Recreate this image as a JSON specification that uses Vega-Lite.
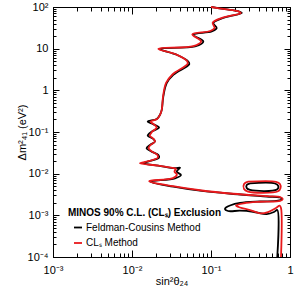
{
  "$schema": "https://vega.github.io/schema/vega-lite/v6.json",
  "width": 237,
  "height": 250,
  "autosize": {"type": "none"},
  "padding": {"left": 53, "top": 7, "right": 4, "bottom": 37},
  "background": "white",
  "config": {
    "view": {"stroke": null},
    "font": "Liberation Sans",
    "axis": {
      "domainColor": "black",
      "domainWidth": 1,
      "tickColor": "black",
      "tickWidth": 1,
      "labelColor": "black",
      "labelFont": "Liberation Sans",
      "labelFontSize": 11,
      "titleFont": "Liberation Sans",
      "titleFontSize": 11,
      "titleFontWeight": "normal",
      "titleColor": "black",
      "grid": false,
      "labelFlush": false,
      "labelOverlap": false
    },
    "line": {"strokeWidth": 1.8, "interpolate": "catmull-rom", "clip": true}
  },
  "datasets": {
    "curves": [
      {"method": "Feldman-Cousins Method", "part": "main", "i": 1, "x": 0.102, "y": 100},
      {"method": "Feldman-Cousins Method", "part": "main", "i": 2, "x": 0.150, "y": 88.5},
      {"method": "Feldman-Cousins Method", "part": "main", "i": 3, "x": 0.220, "y": 79.3},
      {"method": "Feldman-Cousins Method", "part": "main", "i": 4, "x": 0.245, "y": 71.7},
      {"method": "Feldman-Cousins Method", "part": "main", "i": 5, "x": 0.185, "y": 61.8},
      {"method": "Feldman-Cousins Method", "part": "main", "i": 6, "x": 0.143, "y": 54.4},
      {"method": "Feldman-Cousins Method", "part": "main", "i": 7, "x": 0.107, "y": 41.2},
      {"method": "Feldman-Cousins Method", "part": "main", "i": 8, "x": 0.118, "y": 31.3},
      {"method": "Feldman-Cousins Method", "part": "main", "i": 9, "x": 0.102, "y": 25.9},
      {"method": "Feldman-Cousins Method", "part": "main", "i": 10, "x": 0.0597, "y": 21.6},
      {"method": "Feldman-Cousins Method", "part": "main", "i": 11, "x": 0.080, "y": 14.9},
      {"method": "Feldman-Cousins Method", "part": "main", "i": 12, "x": 0.0627, "y": 11.3},
      {"method": "Feldman-Cousins Method", "part": "main", "i": 13, "x": 0.0226, "y": 9.78},
      {"method": "Feldman-Cousins Method", "part": "main", "i": 14, "x": 0.0368, "y": 7.13},
      {"method": "Feldman-Cousins Method", "part": "main", "i": 15, "x": 0.0516, "y": 4.92},
      {"method": "Feldman-Cousins Method", "part": "main", "i": 16, "x": 0.0531, "y": 4.26},
      {"method": "Feldman-Cousins Method", "part": "main", "i": 17, "x": 0.0333, "y": 2.36},
      {"method": "Feldman-Cousins Method", "part": "main", "i": 18, "x": 0.0275, "y": 1.49},
      {"method": "Feldman-Cousins Method", "part": "main", "i": 19, "x": 0.0249, "y": 0.71},
      {"method": "Feldman-Cousins Method", "part": "main", "i": 20, "x": 0.0238, "y": 0.34},
      {"method": "Feldman-Cousins Method", "part": "main", "i": 21, "x": 0.0226, "y": 0.258},
      {"method": "Feldman-Cousins Method", "part": "main", "i": 22, "x": 0.0206, "y": 0.206},
      {"method": "Feldman-Cousins Method", "part": "main", "i": 23, "x": 0.0158, "y": 0.178},
      {"method": "Feldman-Cousins Method", "part": "main", "i": 24, "x": 0.0186, "y": 0.154},
      {"method": "Feldman-Cousins Method", "part": "main", "i": 25, "x": 0.0220, "y": 0.128},
      {"method": "Feldman-Cousins Method", "part": "main", "i": 26, "x": 0.0177, "y": 0.102},
      {"method": "Feldman-Cousins Method", "part": "main", "i": 27, "x": 0.0158, "y": 0.0819},
      {"method": "Feldman-Cousins Method", "part": "main", "i": 28, "x": 0.0186, "y": 0.0682},
      {"method": "Feldman-Cousins Method", "part": "main", "i": 29, "x": 0.0195, "y": 0.0588},
      {"method": "Feldman-Cousins Method", "part": "main", "i": 30, "x": 0.0169, "y": 0.049},
      {"method": "Feldman-Cousins Method", "part": "main", "i": 31, "x": 0.0153, "y": 0.0408},
      {"method": "Feldman-Cousins Method", "part": "main", "i": 32, "x": 0.0177, "y": 0.0338},
      {"method": "Feldman-Cousins Method", "part": "main", "i": 33, "x": 0.0215, "y": 0.0282},
      {"method": "Feldman-Cousins Method", "part": "main", "i": 34, "x": 0.0220, "y": 0.0243},
      {"method": "Feldman-Cousins Method", "part": "main", "i": 35, "x": 0.0169, "y": 0.0202},
      {"method": "Feldman-Cousins Method", "part": "main", "i": 36, "x": 0.0139, "y": 0.0178},
      {"method": "Feldman-Cousins Method", "part": "main", "i": 37, "x": 0.0215, "y": 0.0156},
      {"method": "Feldman-Cousins Method", "part": "main", "i": 38, "x": 0.035, "y": 0.0135},
      {"method": "Feldman-Cousins Method", "part": "main", "i": 39, "x": 0.0406, "y": 0.0139},
      {"method": "Feldman-Cousins Method", "part": "main", "i": 40, "x": 0.0368, "y": 0.0112},
      {"method": "Feldman-Cousins Method", "part": "main", "i": 41, "x": 0.0417, "y": 0.00931},
      {"method": "Feldman-Cousins Method", "part": "main", "i": 42, "x": 0.035, "y": 0.00775},
      {"method": "Feldman-Cousins Method", "part": "main", "i": 43, "x": 0.0169, "y": 0.00643},
      {"method": "Feldman-Cousins Method", "part": "main", "i": 44, "x": 0.0333, "y": 0.00487},
      {"method": "Feldman-Cousins Method", "part": "main", "i": 45, "x": 0.0726, "y": 0.0039},
      {"method": "Feldman-Cousins Method", "part": "main", "i": 46, "x": 0.191, "y": 0.00325},
      {"method": "Feldman-Cousins Method", "part": "main", "i": 47, "x": 0.507, "y": 0.00283},
      {"method": "Feldman-Cousins Method", "part": "main", "i": 48, "x": 0.746, "y": 0.00268},
      {"method": "Feldman-Cousins Method", "part": "main", "i": 49, "x": 0.792, "y": 0.00247},
      {"method": "Feldman-Cousins Method", "part": "main", "i": 50, "x": 0.705, "y": 0.00224},
      {"method": "Feldman-Cousins Method", "part": "main", "i": 51, "x": 0.417, "y": 0.00215},
      {"method": "Feldman-Cousins Method", "part": "main", "i": 52, "x": 0.233, "y": 0.00198},
      {"method": "Feldman-Cousins Method", "part": "main", "i": 53, "x": 0.174, "y": 0.00172},
      {"method": "Feldman-Cousins Method", "part": "main", "i": 54, "x": 0.155, "y": 0.00154},
      {"method": "Feldman-Cousins Method", "part": "main", "i": 55, "x": 0.150, "y": 0.00142},
      {"method": "Feldman-Cousins Method", "part": "main", "i": 56, "x": 0.164, "y": 0.00127},
      {"method": "Feldman-Cousins Method", "part": "main", "i": 57, "x": 0.233, "y": 0.00129},
      {"method": "Feldman-Cousins Method", "part": "main", "i": 58, "x": 0.340, "y": 0.00122},
      {"method": "Feldman-Cousins Method", "part": "main", "i": 59, "x": 0.507, "y": 0.00107},
      {"method": "Feldman-Cousins Method", "part": "main", "i": 60, "x": 0.627, "y": 0.0012},
      {"method": "Feldman-Cousins Method", "part": "main", "i": 61, "x": 0.690, "y": 0.00134},
      {"method": "Feldman-Cousins Method", "part": "main", "i": 62, "x": 0.690, "y": 0.0001},
      {"method": "Feldman-Cousins Method", "part": "island", "i": 1, "x": 0.312, "y": 0.00587},
      {"method": "Feldman-Cousins Method", "part": "island", "i": 2, "x": 0.646, "y": 0.00581},
      {"method": "Feldman-Cousins Method", "part": "island", "i": 3, "x": 0.711, "y": 0.00506},
      {"method": "Feldman-Cousins Method", "part": "island", "i": 4, "x": 0.684, "y": 0.00417},
      {"method": "Feldman-Cousins Method", "part": "island", "i": 5, "x": 0.312, "y": 0.00406},
      {"method": "Feldman-Cousins Method", "part": "island", "i": 6, "x": 0.283, "y": 0.00453},
      {"method": "Feldman-Cousins Method", "part": "island", "i": 7, "x": 0.283, "y": 0.00535},
      {"method": "Feldman-Cousins Method", "part": "island", "i": 8, "x": 0.312, "y": 0.00587},
      {"method": "CLₛ Method", "part": "main", "i": 1, "x": 0.100, "y": 100},
      {"method": "CLₛ Method", "part": "main", "i": 2, "x": 0.150, "y": 88.5},
      {"method": "CLₛ Method", "part": "main", "i": 3, "x": 0.218, "y": 79.3},
      {"method": "CLₛ Method", "part": "main", "i": 4, "x": 0.238, "y": 71.7},
      {"method": "CLₛ Method", "part": "main", "i": 5, "x": 0.180, "y": 61.8},
      {"method": "CLₛ Method", "part": "main", "i": 6, "x": 0.138, "y": 55},
      {"method": "CLₛ Method", "part": "main", "i": 7, "x": 0.105, "y": 42},
      {"method": "CLₛ Method", "part": "main", "i": 8, "x": 0.111, "y": 31.3},
      {"method": "CLₛ Method", "part": "main", "i": 9, "x": 0.098, "y": 26.5},
      {"method": "CLₛ Method", "part": "main", "i": 10, "x": 0.058, "y": 22},
      {"method": "CLₛ Method", "part": "main", "i": 11, "x": 0.075, "y": 15},
      {"method": "CLₛ Method", "part": "main", "i": 12, "x": 0.060, "y": 11.5},
      {"method": "CLₛ Method", "part": "main", "i": 13, "x": 0.0215, "y": 9.9},
      {"method": "CLₛ Method", "part": "main", "i": 14, "x": 0.036, "y": 7.3},
      {"method": "CLₛ Method", "part": "main", "i": 15, "x": 0.050, "y": 5.0},
      {"method": "CLₛ Method", "part": "main", "i": 16, "x": 0.0505, "y": 4.3},
      {"method": "CLₛ Method", "part": "main", "i": 17, "x": 0.0325, "y": 2.4},
      {"method": "CLₛ Method", "part": "main", "i": 18, "x": 0.027, "y": 1.5},
      {"method": "CLₛ Method", "part": "main", "i": 19, "x": 0.0247, "y": 0.71},
      {"method": "CLₛ Method", "part": "main", "i": 20, "x": 0.0238, "y": 0.34},
      {"method": "CLₛ Method", "part": "main", "i": 21, "x": 0.0226, "y": 0.258},
      {"method": "CLₛ Method", "part": "main", "i": 22, "x": 0.0208, "y": 0.206},
      {"method": "CLₛ Method", "part": "main", "i": 23, "x": 0.0172, "y": 0.178},
      {"method": "CLₛ Method", "part": "main", "i": 24, "x": 0.0188, "y": 0.154},
      {"method": "CLₛ Method", "part": "main", "i": 25, "x": 0.0205, "y": 0.128},
      {"method": "CLₛ Method", "part": "main", "i": 26, "x": 0.0180, "y": 0.102},
      {"method": "CLₛ Method", "part": "main", "i": 27, "x": 0.0168, "y": 0.0819},
      {"method": "CLₛ Method", "part": "main", "i": 28, "x": 0.0188, "y": 0.0682},
      {"method": "CLₛ Method", "part": "main", "i": 29, "x": 0.0195, "y": 0.0588},
      {"method": "CLₛ Method", "part": "main", "i": 30, "x": 0.0172, "y": 0.049},
      {"method": "CLₛ Method", "part": "main", "i": 31, "x": 0.0162, "y": 0.0408},
      {"method": "CLₛ Method", "part": "main", "i": 32, "x": 0.0180, "y": 0.0338},
      {"method": "CLₛ Method", "part": "main", "i": 33, "x": 0.0210, "y": 0.0282},
      {"method": "CLₛ Method", "part": "main", "i": 34, "x": 0.0212, "y": 0.0243},
      {"method": "CLₛ Method", "part": "main", "i": 35, "x": 0.0165, "y": 0.0202},
      {"method": "CLₛ Method", "part": "main", "i": 36, "x": 0.0126, "y": 0.0178},
      {"method": "CLₛ Method", "part": "main", "i": 37, "x": 0.0215, "y": 0.0156},
      {"method": "CLₛ Method", "part": "main", "i": 38, "x": 0.034, "y": 0.0135},
      {"method": "CLₛ Method", "part": "main", "i": 39, "x": 0.036, "y": 0.0132},
      {"method": "CLₛ Method", "part": "main", "i": 40, "x": 0.0345, "y": 0.0112},
      {"method": "CLₛ Method", "part": "main", "i": 41, "x": 0.037, "y": 0.0095},
      {"method": "CLₛ Method", "part": "main", "i": 42, "x": 0.033, "y": 0.0078},
      {"method": "CLₛ Method", "part": "main", "i": 43, "x": 0.0165, "y": 0.0066},
      {"method": "CLₛ Method", "part": "main", "i": 44, "x": 0.033, "y": 0.0050},
      {"method": "CLₛ Method", "part": "main", "i": 45, "x": 0.0726, "y": 0.0040},
      {"method": "CLₛ Method", "part": "main", "i": 46, "x": 0.191, "y": 0.0033},
      {"method": "CLₛ Method", "part": "main", "i": 47, "x": 0.52, "y": 0.00288},
      {"method": "CLₛ Method", "part": "main", "i": 48, "x": 0.76, "y": 0.00272},
      {"method": "CLₛ Method", "part": "main", "i": 49, "x": 0.81, "y": 0.00247},
      {"method": "CLₛ Method", "part": "main", "i": 50, "x": 0.75, "y": 0.00222},
      {"method": "CLₛ Method", "part": "main", "i": 51, "x": 0.42, "y": 0.00212},
      {"method": "CLₛ Method", "part": "main", "i": 52, "x": 0.26, "y": 0.00195},
      {"method": "CLₛ Method", "part": "main", "i": 53, "x": 0.207, "y": 0.00172},
      {"method": "CLₛ Method", "part": "main", "i": 54, "x": 0.233, "y": 0.00154},
      {"method": "CLₛ Method", "part": "main", "i": 55, "x": 0.312, "y": 0.00134},
      {"method": "CLₛ Method", "part": "main", "i": 56, "x": 0.417, "y": 0.00112},
      {"method": "CLₛ Method", "part": "main", "i": 57, "x": 0.527, "y": 0.0012},
      {"method": "CLₛ Method", "part": "main", "i": 58, "x": 0.665, "y": 0.0015},
      {"method": "CLₛ Method", "part": "main", "i": 59, "x": 0.74, "y": 0.0017},
      {"method": "CLₛ Method", "part": "main", "i": 60, "x": 0.769, "y": 0.0015},
      {"method": "CLₛ Method", "part": "main", "i": 61, "x": 0.769, "y": 0.0001},
      {"method": "CLₛ Method", "part": "island", "i": 1, "x": 0.294, "y": 0.00643},
      {"method": "CLₛ Method", "part": "island", "i": 2, "x": 0.665, "y": 0.00638},
      {"method": "CLₛ Method", "part": "island", "i": 3, "x": 0.746, "y": 0.00565},
      {"method": "CLₛ Method", "part": "island", "i": 4, "x": 0.759, "y": 0.00453},
      {"method": "CLₛ Method", "part": "island", "i": 5, "x": 0.705, "y": 0.00378},
      {"method": "CLₛ Method", "part": "island", "i": 6, "x": 0.294, "y": 0.00369},
      {"method": "CLₛ Method", "part": "island", "i": 7, "x": 0.262, "y": 0.00429},
      {"method": "CLₛ Method", "part": "island", "i": 8, "x": 0.262, "y": 0.00565},
      {"method": "CLₛ Method", "part": "island", "i": 9, "x": 0.294, "y": 0.00643}
    ]
  },
  "layer": [
    {
      "data": {"name": "curves"},
      "transform": [{"filter": "datum.method == 'Feldman-Cousins Method' && datum.part == 'main'"}],
      "mark": {"type": "line"},
      "encoding": {
        "x": {
          "field": "x", "type": "quantitative",
          "scale": {"type": "log", "domain": [0.001, 1], "nice": false},
          "axis": {
            "orient": "bottom",
            "title": "sin²θ₂₄",
            "values": [0.001, 0.01, 0.1, 1],
            "labelExpr": "datum.value == 1 ? '1' : datum.value == 0.1 ? '10⁻¹' : datum.value == 0.01 ? '10⁻²' : '10⁻³'",
            "tickSize": -7,
            "labelPadding": 14,
            "titlePadding": 0
          }
        },
        "y": {
          "field": "y", "type": "quantitative",
          "scale": {"type": "log", "domain": [0.0001, 100], "nice": false},
          "axis": {
            "orient": "left",
            "title": "Δm²₄₁ (eV²)",
            "values": [0.0001, 0.001, 0.01, 0.1, 1, 10, 100],
            "labelExpr": "datum.value == 100 ? '10²' : datum.value == 10 ? '10' : datum.value == 1 ? '1' : datum.value == 0.1 ? '10⁻¹' : datum.value == 0.01 ? '10⁻²' : datum.value == 0.001 ? '10⁻³' : '10⁻⁴'",
            "tickSize": -6,
            "labelPadding": 11,
            "titlePadding": 0
          }
        },
        "color": {
          "field": "method", "type": "nominal",
          "scale": {"domain": ["Feldman-Cousins Method", "CLₛ Method"], "range": ["#000000", "#e8191c"]},
          "legend": {
            "orient": "none",
            "legendX": 15,
            "legendY": 201,
            "title": "MINOS 90% C.L. (CLₛ) Exclusion",
            "titleFont": "Liberation Sans",
            "titleFontWeight": "bold",
            "titleFontSize": 10,
            "titleColor": "black",
            "titlePadding": 4.5,
            "labelFont": "Liberation Sans",
            "labelFontSize": 10,
            "labelColor": "black",
            "labelOffset": 3,
            "symbolType": "stroke",
            "symbolSize": 64,
            "symbolStrokeWidth": 2,
            "symbolOffset": 5,
            "rowPadding": 5.5,
            "padding": 0
          }
        },
        "order": {"field": "i", "type": "quantitative"}
      }
    },
    {
      "data": {"name": "curves"},
      "transform": [{"filter": "datum.method == 'Feldman-Cousins Method' && datum.part == 'island'"}],
      "mark": {"type": "line"},
      "encoding": {
        "x": {
          "field": "x", "type": "quantitative",
          "scale": {"type": "log", "domain": [0.001, 1], "nice": false},
          "axis": {
            "orient": "bottom", "title": null, "labels": false,
            "values": [0.002, 0.003, 0.004, 0.005, 0.006, 0.007, 0.008, 0.009, 0.02, 0.03, 0.04, 0.05, 0.06, 0.07, 0.08, 0.09, 0.2, 0.3, 0.4, 0.5, 0.6, 0.7, 0.8, 0.9],
            "tickSize": -4
          }
        },
        "y": {
          "field": "y", "type": "quantitative",
          "scale": {"type": "log", "domain": [0.0001, 100], "nice": false},
          "axis": {
            "orient": "left", "title": null, "labels": false,
            "values": [0.0002, 0.0003, 0.0004, 0.0005, 0.0006, 0.0007, 0.0008, 0.0009, 0.002, 0.003, 0.004, 0.005, 0.006, 0.007, 0.008, 0.009, 0.02, 0.03, 0.04, 0.05, 0.06, 0.07, 0.08, 0.09, 0.2, 0.3, 0.4, 0.5, 0.6, 0.7, 0.8, 0.9, 2, 3, 4, 5, 6, 7, 8, 9, 20, 30, 40, 50, 60, 70, 80, 90],
            "tickSize": -3
          }
        },
        "color": {
          "field": "method", "type": "nominal",
          "scale": {"domain": ["Feldman-Cousins Method", "CLₛ Method"], "range": ["#000000", "#e8191c"]}
        },
        "order": {"field": "i", "type": "quantitative"}
      }
    },
    {
      "data": {"name": "curves"},
      "transform": [{"filter": "datum.method == 'CLₛ Method' && datum.part == 'main'"}],
      "mark": {"type": "line"},
      "encoding": {
        "x": {
          "field": "x", "type": "quantitative",
          "scale": {"type": "log", "domain": [0.001, 1], "nice": false},
          "axis": {
            "orient": "top", "title": null, "labels": false,
            "values": [0.001, 0.01, 0.1, 1],
            "tickSize": -7
          }
        },
        "y": {
          "field": "y", "type": "quantitative",
          "scale": {"type": "log", "domain": [0.0001, 100], "nice": false},
          "axis": {
            "orient": "right", "title": null, "labels": false,
            "values": [0.0001, 0.001, 0.01, 0.1, 1, 10, 100],
            "tickSize": -6
          }
        },
        "color": {
          "field": "method", "type": "nominal",
          "scale": {"domain": ["Feldman-Cousins Method", "CLₛ Method"], "range": ["#000000", "#e8191c"]}
        },
        "order": {"field": "i", "type": "quantitative"}
      }
    },
    {
      "data": {"name": "curves"},
      "transform": [{"filter": "datum.method == 'CLₛ Method' && datum.part == 'island'"}],
      "mark": {"type": "line"},
      "encoding": {
        "x": {
          "field": "x", "type": "quantitative",
          "scale": {"type": "log", "domain": [0.001, 1], "nice": false},
          "axis": {
            "orient": "top", "title": null, "labels": false,
            "values": [0.002, 0.003, 0.004, 0.005, 0.006, 0.007, 0.008, 0.009, 0.02, 0.03, 0.04, 0.05, 0.06, 0.07, 0.08, 0.09, 0.2, 0.3, 0.4, 0.5, 0.6, 0.7, 0.8, 0.9],
            "tickSize": -4
          }
        },
        "y": {
          "field": "y", "type": "quantitative",
          "scale": {"type": "log", "domain": [0.0001, 100], "nice": false},
          "axis": {
            "orient": "right", "title": null, "labels": false,
            "values": [0.0002, 0.0003, 0.0004, 0.0005, 0.0006, 0.0007, 0.0008, 0.0009, 0.002, 0.003, 0.004, 0.005, 0.006, 0.007, 0.008, 0.009, 0.02, 0.03, 0.04, 0.05, 0.06, 0.07, 0.08, 0.09, 0.2, 0.3, 0.4, 0.5, 0.6, 0.7, 0.8, 0.9, 2, 3, 4, 5, 6, 7, 8, 9, 20, 30, 40, 50, 60, 70, 80, 90],
            "tickSize": -3
          }
        },
        "color": {
          "field": "method", "type": "nominal",
          "scale": {"domain": ["Feldman-Cousins Method", "CLₛ Method"], "range": ["#000000", "#e8191c"]}
        },
        "order": {"field": "i", "type": "quantitative"}
      }
    }
  ],
  "resolve": {"axis": {"x": "independent", "y": "independent"}}
}
